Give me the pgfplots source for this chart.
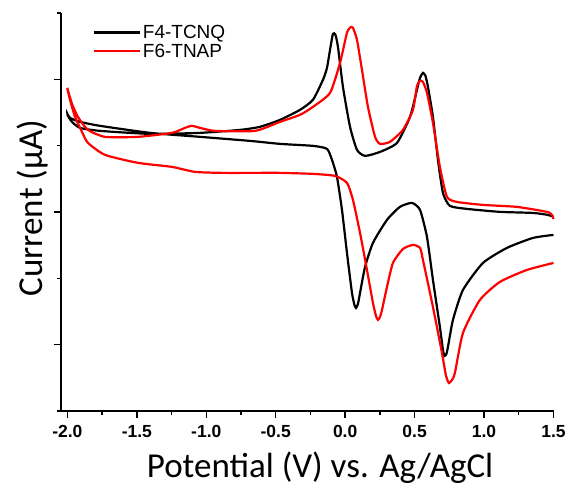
\documentclass[border=0pt]{standalone}
\usepackage{pgfplots}
\pgfplotsset{compat=1.18}
\usepackage{fontspec}
\setmainfont{Liberation Sans}
\newfontfamily\calib{Carlito}
\begin{document}
\begin{tikzpicture}
\useasboundingbox (-61pt,-77pt) rectangle (509pt,411pt);
\begin{axis}[
  at={(0,0)}, anchor=south west,
  scale only axis, width=492.5pt, height=398pt,
  xmin=-2.046, xmax=1.5, ymin=0, ymax=6,
  axis x line*=bottom, axis y line*=left,
  axis line style={line width=1.5pt, -},
  tick style={line width=1.4pt, black},
  xtick={-2,-1.5,-1,-0.5,0,0.5,1,1.5},
  xticklabels={-2.0,-1.5,-1.0,-0.5,0.0,0.5,1.0,1.5},
  minor xtick={-1.75,-1.25,-0.75,-0.25,0.25,0.75,1.25},
  ytick={1,3,5}, yticklabels={},
  minor ytick={0,2,4,6},
  tick align=outside,
  major tick length=7pt, minor tick length=4pt,
  x tick label style={font=\fontsize{17.5}{19}\selectfont\bfseries, yshift=-4pt},
  xlabel={Potential (V) vs. Ag/AgCl},
  ylabel={Current (µA)},
  xlabel style={font=\calib\fontsize{35}{37}\selectfont, at={(rel axis cs:0.526,-0.168)}, anchor=base},
  ylabel style={font=\calib\fontsize{35}{37}\selectfont, at={(rel axis cs:-0.038,0.51)}, anchor=base, rotate=0},
  legend style={draw=none, fill=none, at={(rel axis cs:0.064,0.975)}, anchor=north west,
    font=\fontsize{19}{22}\selectfont, row sep=0pt, inner sep=0pt},
  legend cell align=left,
  legend image code/.code={\draw[#1, line width=2.2pt] (0pt,0pt) -- (46pt,0pt);},
  clip=false,
]
\addplot[black, line width=2.2pt, smooth, tension=0.35] coordinates {
(1.500,2.926) (1.460,2.956) (1.352,2.986) (1.114,3.002) (0.877,3.047) (0.754,3.092)
(0.704,3.288) (0.668,3.786) (0.632,4.434) (0.596,4.887) (0.578,5.053) (0.560,5.098)
(0.539,5.023) (0.517,4.842) (0.467,4.434) (0.373,4.042) (0.251,3.906) (0.143,3.846)
(0.085,3.937) (0.035,4.284) (-0.016,4.887) (-0.052,5.490) (-0.070,5.671) (-0.088,5.686)
(-0.109,5.445) (-0.131,5.173) (-0.160,4.992) (-0.232,4.691) (-0.325,4.540) (-0.469,4.389)
(-0.613,4.284) (-0.757,4.238) (-1.045,4.193) (-1.405,4.178) (-1.765,4.223) (-1.909,4.268)
(-1.967,4.359) (-1.996,4.449) (-2.000,4.480)
(-1.981,4.419) (-1.909,4.359) (-1.765,4.299) (-1.405,4.193) (-1.045,4.133) (-0.685,4.072)
(-0.469,4.027) (-0.232,3.997) (-0.131,3.952) (-0.095,3.786) (-0.059,3.529) (-0.023,3.032)
(0.013,2.383) (0.049,1.780) (0.067,1.599) (0.078,1.554) (0.092,1.614) (0.107,1.780)
(0.143,2.172) (0.200,2.534) (0.301,2.881) (0.394,3.077) (0.481,3.137) (0.539,3.032)
(0.589,2.624) (0.632,1.976) (0.682,1.267) (0.704,0.920) (0.715,0.830) (0.729,0.860)
(0.740,0.965) (0.776,1.373) (0.848,1.825) (0.992,2.232) (1.165,2.459) (1.352,2.609)
(1.500,2.655)
};
\addlegendentry{F4-TCNQ}
\addplot[red, line width=2.2pt, smooth, tension=0.35] coordinates {
(1.500,2.896) (1.489,2.956) (1.453,3.002) (1.237,3.077) (0.992,3.107) (0.805,3.152)
(0.733,3.228) (0.682,3.680) (0.632,4.344) (0.589,4.796) (0.560,4.962) (0.539,4.977)
(0.517,4.902) (0.488,4.540) (0.416,4.238) (0.322,4.057) (0.251,4.027) (0.215,4.133)
(0.164,4.585) (0.121,5.143) (0.085,5.596) (0.056,5.777) (0.038,5.784) (0.013,5.701)
(-0.037,5.249) (-0.109,4.796) (-0.232,4.585) (-0.325,4.465) (-0.469,4.359) (-0.649,4.223)
(-0.937,4.223) (-1.045,4.268) (-1.103,4.299) (-1.154,4.268) (-1.247,4.193) (-1.492,4.133)
(-1.729,4.133) (-1.852,4.238) (-1.924,4.434) (-1.967,4.630) (-2.001,4.872)
(-1.981,4.691) (-1.945,4.434) (-1.895,4.208) (-1.852,4.042) (-1.729,3.861) (-1.492,3.741)
(-1.247,3.680) (-1.082,3.605) (-0.887,3.590) (-0.649,3.590) (-0.469,3.590) (-0.232,3.575)
(-0.073,3.544) (0.013,3.439) (0.056,3.183) (0.107,2.685) (0.157,2.127) (0.200,1.629)
(0.222,1.433) (0.236,1.373) (0.251,1.418) (0.265,1.523) (0.301,1.870) (0.344,2.232)
(0.416,2.443) (0.488,2.504) (0.539,2.459) (0.560,2.278) (0.632,1.569) (0.697,0.875)
(0.726,0.528) (0.747,0.422) (0.769,0.468) (0.790,0.573) (0.848,1.176) (0.970,1.674)
(1.114,1.946) (1.309,2.127) (1.500,2.232)
};
\addlegendentry{F6-TNAP}
\end{axis}
\end{tikzpicture}
\end{document}
